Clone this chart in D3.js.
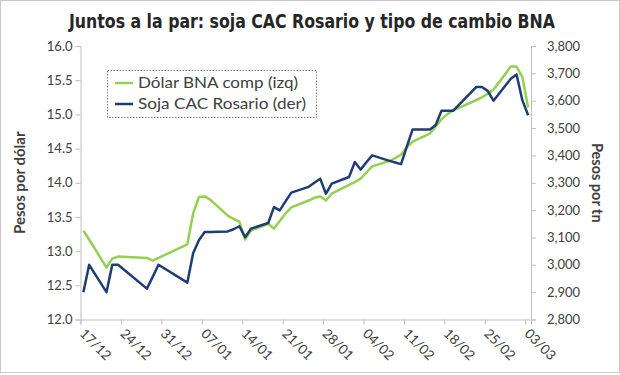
<!DOCTYPE html>
<html><head><meta charset="utf-8">
<script src="https://cdn.jsdelivr.net/npm/d3@7"></script>
<style>
html,body{margin:0;padding:0;background:#fff;}
svg{display:block;}
</style></head>
<body>
<svg id="chart" width="620" height="375"></svg>
<script>
// ---- data ----
const dates = ["2015-12-17","2015-12-18","2015-12-21","2015-12-22","2015-12-23","2015-12-28","2015-12-29","2015-12-30",
"2016-01-04","2016-01-05","2016-01-06","2016-01-07","2016-01-08","2016-01-11","2016-01-12","2016-01-13","2016-01-14","2016-01-15",
"2016-01-18","2016-01-19","2016-01-20","2016-01-21","2016-01-22","2016-01-25","2016-01-26","2016-01-27","2016-01-28","2016-01-29",
"2016-02-01","2016-02-02","2016-02-03","2016-02-04","2016-02-05","2016-02-08","2016-02-09","2016-02-10","2016-02-11","2016-02-12",
"2016-02-15","2016-02-16","2016-02-17","2016-02-18","2016-02-19","2016-02-22","2016-02-23","2016-02-24","2016-02-25","2016-02-26",
"2016-02-29","2016-03-01","2016-03-02","2016-03-03"];
const dolarBNA = [13.30,13.17,12.76,12.89,12.92,12.90,12.86,12.90,
13.10,13.55,13.79,13.80,13.75,13.52,13.47,13.43,13.17,13.30,
13.40,13.33,13.44,13.55,13.64,13.74,13.78,13.80,13.74,13.84,
13.97,14.01,14.06,14.15,14.24,14.32,14.36,14.41,14.52,14.60,
14.72,14.82,14.93,15.00,15.06,15.17,15.21,15.25,15.30,15.36,
15.70,15.70,15.55,15.10];
const sojaCAC = [2900,3000,2900,3000,3000,2913,2956,3000,
2935,3042,3090,3120,3120,3122,3130,3141,3101,3132,
3153,3211,3199,3232,3264,3285,3300,3315,3260,3297,
3321,3376,3348,3375,3400,3380,3374,3368,3432,3495,
3495,3511,3563,3563,3563,3628,3650,3650,3636,3600,
3680,3696,3602,3547];
const seriesNames = ["Dólar BNA comp (izq)","Soja CAC Rosario (der)"];
const leftTicks = [12.0,12.5,13.0,13.5,14.0,14.5,15.0,15.5,16.0];
const rightTicks = [2800,2900,3000,3100,3200,3300,3400,3500,3600,3700,3800];
const xTickLabels = ["17/12","24/12","31/12","07/01","14/01","21/01","28/01","04/02","11/02","18/02","25/02","03/03"];
const titleText = "Juntos a la par: soja CAC Rosario y tipo de cambio BNA";
const leftTitle = "Pesos por dólar";
const rightTitle = "Pesos por tn";

// ---- setup ----
const svg = d3.select("#chart");
const parse = d3.utcParse("%Y-%m-%d");
const dts = dates.map(parse);
const start = parse("2015-12-17"), end = parse("2016-03-04");
const X0 = 80.5, X1 = 531, Y0 = 319.5, Y1 = 46;
const x = d3.scaleUtc().domain([start, end]).range([X0, X1]);
const yL = d3.scaleLinear().domain([12,16]).range([Y0, Y1]);
const yR = d3.scaleLinear().domain([2800,3800]).range([Y0, Y1]);
const mid = d => d3.utcHour.offset(d, 12);

const GREEN = "#92D050", BLUE = "#1F3D73", AXIS = "#BFBFBF", TXT = "#404040";
const tickFont = "Lato, 'Open Sans', 'DejaVu Sans', sans-serif";

// outer frame
svg.append("rect").attr("x",0.5).attr("y",0.5).attr("width",619).attr("height",372)
  .attr("fill","#fff").attr("stroke","#c8c8c8");

// title
svg.append("text").attr("x",312).attr("y",28).attr("text-anchor","middle")
  .attr("font-family","'Liberation Sans Narrow','DejaVu Sans Condensed','Roboto Condensed',sans-serif")
  .attr("font-size",19).attr("font-weight","bold").attr("fill","#262626")
  .attr("textLength",486).attr("lengthAdjust","spacingAndGlyphs")
  .text(titleText);

// axes
const gL = svg.append("g").attr("transform",`translate(${X0},0)`)
  .call(d3.axisLeft(yL).tickValues(leftTicks).tickFormat(d3.format(".1f")).tickSize(5).tickPadding(3));
const gR = svg.append("g").attr("transform",`translate(${X1},0)`)
  .call(d3.axisRight(yR).tickValues(rightTicks).tickFormat(d3.format(",")).tickSize(5).tickPadding(11));
const xTickVals = xTickLabels.map((_,i)=>d3.utcDay.offset(start, 7*i));
const gX = svg.append("g").attr("transform",`translate(0,${Y0})`)
  .call(d3.axisBottom(x).tickValues(xTickVals).tickFormat((d,i)=>xTickLabels[i]).tickSize(5));
[gL,gR,gX].forEach(g=>{
  g.select(".domain").attr("stroke",AXIS);
  g.selectAll(".tick line").attr("stroke",AXIS);
  g.selectAll(".tick text").attr("fill",TXT).attr("font-family",tickFont).attr("font-size",13);
});
gX.selectAll(".tick text").attr("text-anchor","start").attr("x",0).attr("y",0).attr("dy",0)
  .attr("font-size",13.5).attr("transform","translate(-2,15) rotate(45)");

// axis titles
svg.append("text").attr("transform",`translate(25,${(Y0+Y1)/2}) rotate(-90)`).attr("text-anchor","middle")
  .attr("font-family",tickFont).attr("font-size",15).attr("font-weight","bold").attr("fill",TXT).text(leftTitle);
svg.append("text").attr("transform",`translate(592,${(Y0+Y1)/2}) rotate(90)`).attr("text-anchor","middle")
  .attr("font-family",tickFont).attr("font-size",14.5).attr("font-weight","bold").attr("fill",TXT).text(rightTitle);

// lines
const lineL = d3.line().x((d,i)=>x(mid(dts[i]))).y(d=>yL(d));
const lineR = d3.line().x((d,i)=>x(mid(dts[i]))).y(d=>yR(d));
svg.append("path").datum(dolarBNA).attr("d",lineL).attr("fill","none").attr("stroke",GREEN)
  .attr("stroke-width",2.5).attr("stroke-linejoin","round");
svg.append("path").datum(sojaCAC).attr("d",lineR).attr("fill","none").attr("stroke",BLUE)
  .attr("stroke-width",2.5).attr("stroke-linejoin","round");

// legend
const lg = svg.append("g");
lg.append("rect").attr("x",107.5).attr("y",70.5).attr("width",209).attr("height",47)
  .attr("fill","#fff").attr("stroke","#808080").attr("stroke-dasharray","1.5,1.5");
[[GREEN,83,160],[BLUE,104,168]].forEach(([c,yy,tl],i)=>{
  lg.append("line").attr("x1",115).attr("x2",133).attr("y1",yy).attr("y2",yy).attr("stroke",c).attr("stroke-width",2.5);
  lg.append("text").attr("x",138).attr("y",yy+5).attr("font-family",tickFont).attr("font-size",15)
    .attr("textLength",tl).attr("lengthAdjust","spacingAndGlyphs")
    .attr("fill",TXT).text(seriesNames[i]);
});
</script>
</body></html>
